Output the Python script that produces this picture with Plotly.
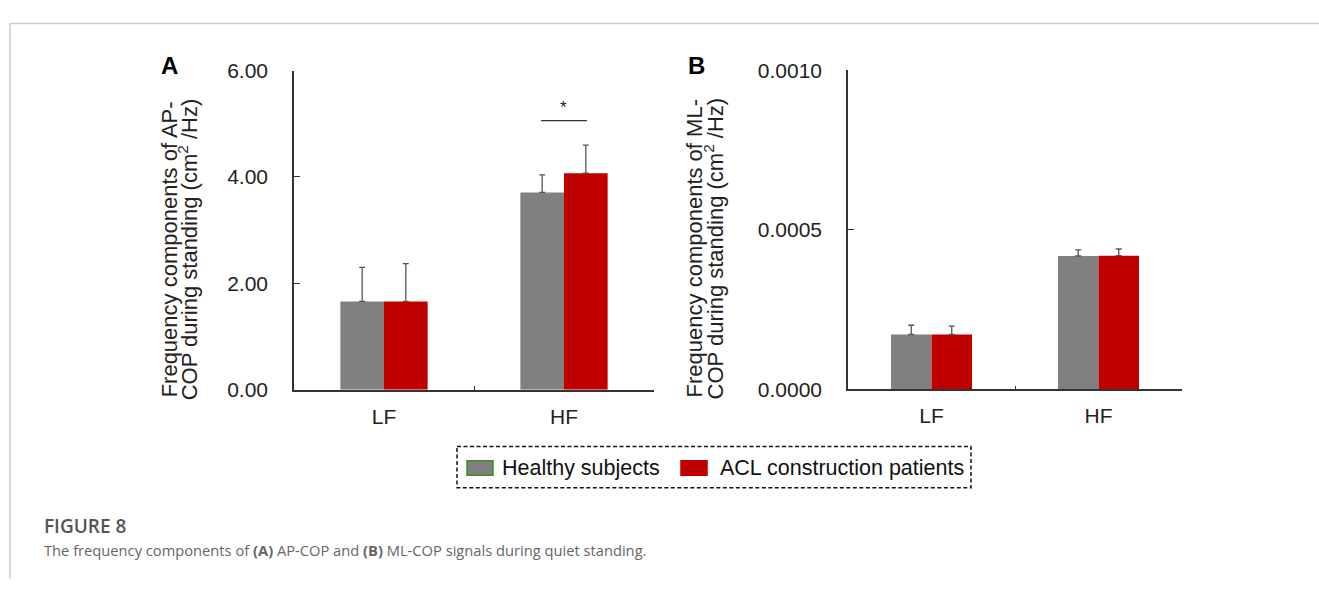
import plotly.graph_objects as go

# ---------------- data ----------------
categories = ["LF", "HF"]
series_names = ["Healthy subjects", "ACL construction patients"]

ap_healthy = [1.66, 3.71]
ap_healthy_err = [0.64, 0.33]
ap_acl = [1.66, 4.07]
ap_acl_err = [0.71, 0.53]

ml_healthy = [0.000172, 0.000418]
ml_healthy_err = [0.000029, 0.000019]
ml_acl = [0.000172, 0.000419]
ml_acl_err = [0.000026, 0.000021]

ap_ticks = [0, 2, 4, 6]
ml_ticks = [0, 0.0005, 0.0010]

colors = ["#808080", "#c00000"]

W, H = 1319, 590
FONT = "Liberation Sans, Arial, sans-serif"


def px(x):
    return x / W


def py(y):
    return 1 - y / H


fig = go.Figure()

panels = [
    ("x", "y", [ap_healthy, ap_acl], [ap_healthy_err, ap_acl_err]),
    ("x2", "y2", [ml_healthy, ml_acl], [ml_healthy_err, ml_acl_err]),
]
for xa, ya, vals, errs in panels:
    for name, col, v, e in zip(series_names, colors, vals, errs):
        fig.add_trace(go.Bar(
            x=categories, y=v, name=name, xaxis=xa, yaxis=ya,
            marker=dict(color=col, line=dict(width=0)),
            error_y=dict(type="data", symmetric=False, array=e,
                         arrayminus=[0] * len(e), color="#555555",
                         thickness=1.3, width=3),
            showlegend=False,
        ))

axis_common = dict(
    showline=True, linecolor="#333333", linewidth=1.5,
    showgrid=False, zeroline=False,
    tickfont=dict(family=FONT, size=21, color="#222222"),
)

fig.update_layout(
    width=W, height=H,
    margin=dict(l=0, r=0, t=0, b=0),
    paper_bgcolor="white", plot_bgcolor="white",
    barmode="group", bargap=0.515, bargroupgap=0,
    showlegend=False,
    xaxis=dict(domain=[px(294), px(654)], range=[-0.5, 1.5],
               ticks="inside", ticklen=4, tickson="boundaries",
               tickcolor="#333333", ticklabelstandoff=7,
               anchor="y", **axis_common),
    yaxis=dict(domain=[py(393), py(61)], range=[0, 6],
               tickvals=ap_ticks, ticktext=[f"{t:.2f}" for t in ap_ticks],
               ticks="inside", ticklen=6, tickcolor="#333333",
               ticklabelstandoff=20, anchor="x", **axis_common),
    xaxis2=dict(domain=[px(848), px(1182)], range=[-0.5, 1.5],
                ticks="inside", ticklen=4, tickson="boundaries",
                tickcolor="#333333", ticklabelstandoff=7,
                anchor="y2", **axis_common),
    yaxis2=dict(domain=[py(392.7), py(60.7)], range=[0, 0.001],
                tickvals=ml_ticks, ticktext=[f"{t:.4f}" for t in ml_ticks],
                ticks="inside", ticklen=6, tickcolor="#333333",
                ticklabelstandoff=20, anchor="x2", **axis_common),
)

ann = []


def add_text(text, x, y, size, color="#222222", family=FONT, xanchor="center",
             angle=0, weight=None):
    f = dict(family=family, size=size, color=color)
    if weight is not None:
        f["weight"] = weight
    ann.append(dict(text=text, x=px(x), y=py(y), xref="paper", yref="paper",
                    xanchor=xanchor, yanchor="middle", showarrow=False,
                    textangle=angle, font=f))


# panel letters
add_text("<b>A</b>", 169, 56, 24, "black")
add_text("<b>B</b>", 696, 56, 24, "black")
# axis titles (two lines each)
ytitles = [
    ("Frequency components of AP-", 169, 247),
    ("COP during standing (cm<sup>2</sup> /Hz)", 188, 247),
    ("Frequency components of ML-", 694, 246),
    ("COP during standing (cm<sup>2</sup> /Hz)", 714, 246),
]
for t, x, y in ytitles:
    add_text(t, x, y, 22, angle=-90)
# significance
add_text("*", 563, 99, 17)

# legend (manual, dashed box)
legend_items = [
    (series_names[0], colors[0], "#3f8a2f", 467, 500),
    (series_names[1], colors[1], colors[1], 681, 718),
]
shapes = []
shapes.append(dict(type="rect", xref="paper", yref="paper",
                   x0=px(457), x1=px(971), y0=py(452), y1=py(495),
                   line=dict(color="#111111", width=1.5, dash="4px,2.5px"),
                   fillcolor="rgba(0,0,0,0)"))
for name, fill, edge, sx, tx in legend_items:
    shapes.append(dict(type="rect", xref="paper", yref="paper",
                       x0=px(sx), x1=px(sx + 26), y0=py(467), y1=py(482),
                       line=dict(color=edge, width=1.5), fillcolor=fill))
    add_text(name, tx, 474, 21.5, "#111111", xanchor="left")

# significance bracket
shapes.append(dict(type="line", xref="paper", yref="paper",
                   x0=px(541), x1=px(587), y0=py(113), y1=py(113),
                   line=dict(color="#333333", width=1.3)))

# frame lines
shapes.append(dict(type="line", xref="paper", yref="paper",
                   x0=px(10), x1=1, y0=py(12), y1=py(12),
                   line=dict(color="#cccccc", width=1.5)))
shapes.append(dict(type="line", xref="paper", yref="paper",
                   x0=px(10), x1=px(10), y0=py(12), y1=0,
                   line=dict(color="#cccccc", width=1.5)))

# caption
add_text("FIGURE 8", 42, 535, 19, "#555555",
         family="Open Sans, sans-serif", xanchor="left", weight=600)
add_text("The frequency components of <b>(A)</b> AP-COP and <b>(B)</b> ML-COP signals during quiet standing.",
         42, 560, 14.7, "#666666", family="Open Sans, sans-serif", xanchor="left")

fig.update_layout(annotations=ann, shapes=shapes)

fig.write_html("out.html")
